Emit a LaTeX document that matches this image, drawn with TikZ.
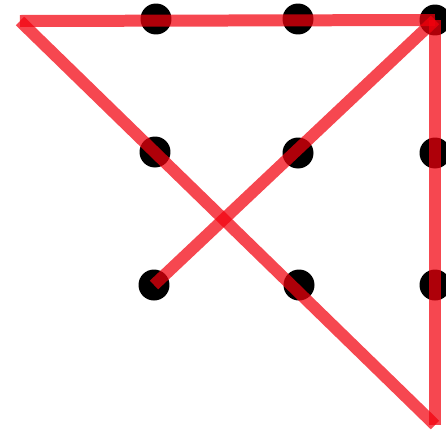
\documentclass[tikz,border=0pt]{standalone}
\usepackage{tikz}
\usetikzlibrary{positioning}

\begin{document}
\begin{tikzpicture}[x=0.02cm, y=-0.02cm,
  dot/.style={circle, fill=black, inner sep=0pt, minimum size=0.62cm},
  stroke/.style={draw=red!95!blue, opacity=0.72, line width=0.24cm, line cap=butt}]
\useasboundingbox (0,0) rectangle (446,433);
% nine dots
\node[dot] (d11) at (156,19) {};
\node[dot] (d12) at (298,19) {};
\node[dot] (d13) at (435,20) {};
\node[dot] (d21) at (155,152) {};
\node[dot] (d22) at (298,153) {};
\node[dot] (d23) at (435,153) {};
\node[dot] (d31) at (154,285) {};
\node[dot] (d32) at (299,285) {};
\node[dot] (d33) at (435,285) {};
% corners outside the grid
\coordinate (tl) at (20,21);
\coordinate (br) at (435,425);
% four strokes
\draw[stroke] (d31.center) -- (d13.center);
\draw[stroke] (tl) -- (d13.center);
\draw[stroke] (tl) -- (br);
\draw[stroke] (br) -- (d13.center);
\end{tikzpicture}
\end{document}
